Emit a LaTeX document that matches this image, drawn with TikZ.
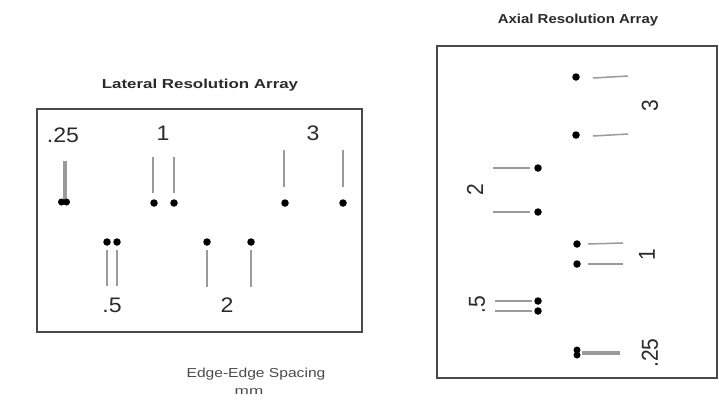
\documentclass[tikz,border=0pt]{standalone}
\usepackage{fontspec}
\setmainfont{Liberation Sans}
\definecolor{frame}{HTML}{4A4A4A}
\definecolor{wire}{HTML}{9A9A9A}
\definecolor{ink}{HTML}{2A2A2A}
\begin{document}
\begin{tikzpicture}[x=1pt,y=-1pt,
  frm/.style={draw=frame,line width=2pt},
  wire/.style={draw=wire,line width=1.5pt},
  dot/.style={circle,fill=black,inner sep=0pt,minimum size=7.5pt},
  num/.style={text=ink,inner sep=0pt,font=\fontsize{21}{21}\selectfont,xscale=1.1},
  ttl/.style={text=ink,inner sep=0pt,font=\bfseries\fontsize{13}{13}\selectfont},
  captxt/.style={text=ink!85,inner sep=0pt,font=\fontsize{13}{13}\selectfont,xscale=1.2}]
\useasboundingbox (0,0) rectangle (719,400);
% frames
\draw[frm] (37,109) rectangle (362,332);
\draw[frm] (437,46) rectangle (717,378);
% titles
\node[ttl,xscale=1.3] (tl) at (200,85) {Lateral Resolution Array};
\node[ttl,xscale=1.15] (tr) at (578,20) {Axial Resolution Array};
\node[captxt] (c1) at (256,374) {Edge-Edge Spacing};
\node[captxt,font=\fontsize{11}{11}\selectfont,xscale=1.3] (c2) at (249,392) {mm};
% ---------- lateral array ----------
\node[num] (l25) at (63,135) {.25};
\node[num] (l1) at (163,133) {1};
\node[num] (l3) at (313,133) {3};
\node[num] (l5) at (112,305) {.5};
\node[num] (l2) at (227,305) {2};
% .25
\draw[wire,line width=2pt] (63.5,161) -- (63.5,199);
\draw[wire,line width=2pt] (65.5,161) -- (65.5,199);
\node[dot,minimum size=7pt] (a1) at (61.5,202) {};
\node[dot,minimum size=7pt] (a2) at (66.5,202) {};
% 1
\draw[wire] (153,157) -- (153,193);
\draw[wire] (174,157) -- (174,193);
\node[dot] (b1) at (154,203) {};
\node[dot] (b2) at (174,203) {};
% 3
\draw[wire] (284,150) -- (284,187);
\draw[wire] (343,150) -- (343,187);
\node[dot] (d1) at (285,203) {};
\node[dot] (d2) at (343,203) {};
% .5
\node[dot] (e1) at (107,242) {};
\node[dot] (e2) at (117,242) {};
\draw[wire] (107,250) -- (107,286);
\draw[wire] (117,250) -- (117,286);
% 2
\node[dot] (f1) at (207,242) {};
\node[dot] (f2) at (251,242) {};
\draw[wire] (207,250) -- (207,287);
\draw[wire] (251,250) -- (251,287);
% ---------- axial array ----------
\node[num,rotate=90] (r3) at (650,106) {3};
\node[num,rotate=90] (r2) at (475,190) {2};
\node[num,rotate=90] (r1) at (647,255) {1};
\node[num,rotate=90] (r5) at (477,305) {.5};
\node[num,rotate=90] (r25) at (650,353) {.25};
% 3
\node[dot] (g1) at (576,77) {};
\node[dot] (g2) at (576,135) {};
\draw[wire] (593,78) -- (628,76);
\draw[wire] (593,136) -- (628,134);
% 2
\draw[wire] (493,168) -- (530,168);
\draw[wire] (493,212) -- (530,212);
\node[dot] (h1) at (538,168) {};
\node[dot] (h2) at (538,212) {};
% 1
\node[dot] (i1) at (577,244) {};
\node[dot] (i2) at (577,264) {};
\draw[wire] (588,244) -- (623,243);
\draw[wire] (588,264) -- (623,264);
% .5
\draw[wire] (495,301) -- (532,301);
\draw[wire] (495,311) -- (532,311);
\node[dot] (j1) at (538,301) {};
\node[dot] (j2) at (538,311) {};
% .25
\node[dot,minimum size=7pt] (k1) at (577,350) {};
\node[dot,minimum size=7pt] (k2) at (577,355) {};
\draw[wire,line width=2pt] (582,351.5) -- (620,351.5);
\draw[wire,line width=2pt] (582,353.5) -- (620,353.5);
\end{tikzpicture}
\end{document}
